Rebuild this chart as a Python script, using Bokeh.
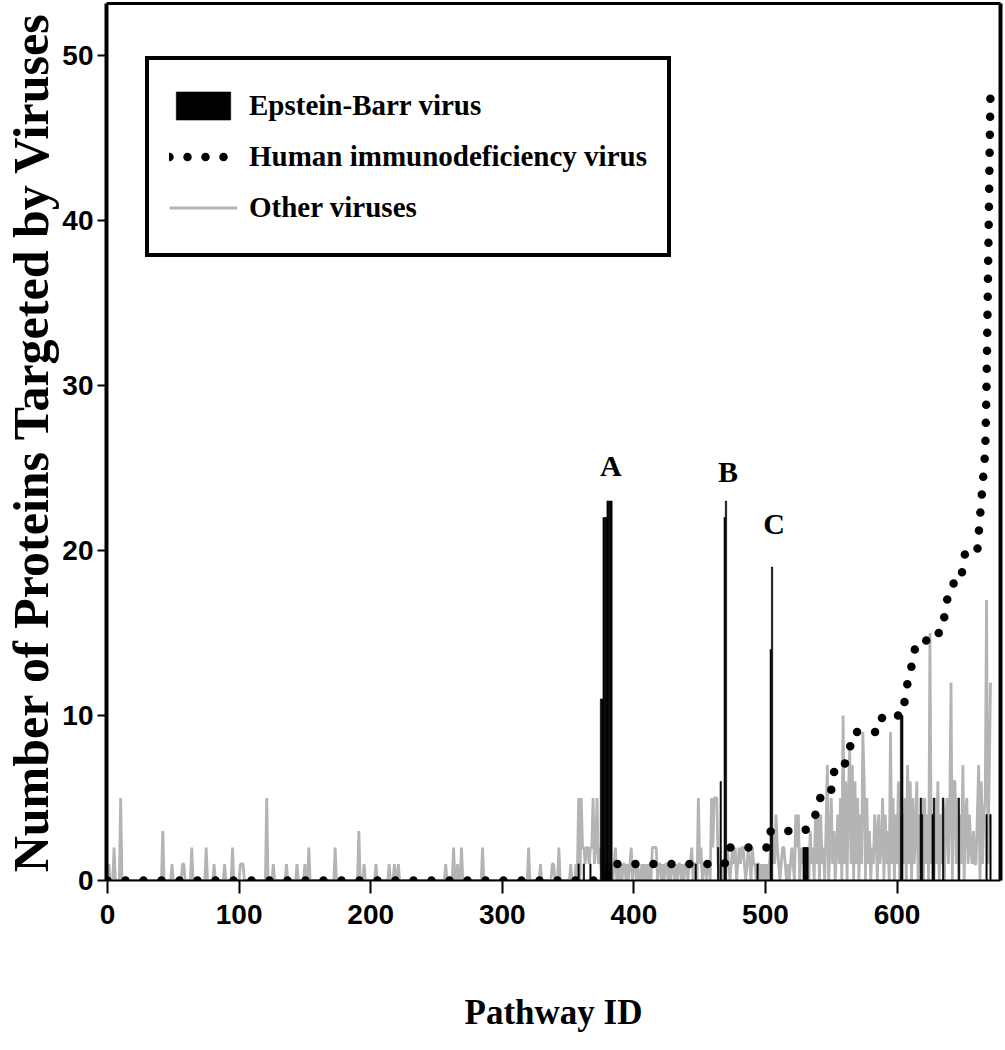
from bokeh.plotting import figure
from bokeh.models import Range1d, LinearAxis, FixedTicker, Legend, LegendItem, Label
from bokeh.embed import file_html
from bokeh.resources import INLINE

# ---------------- data ----------------
n_pathways = 672

# "Other viruses": isolated spikes in the low-ID region (pathway id, count)
other_spike_ids = [1, 5, 10, 42, 49, 57, 58, 64, 75, 81, 89, 95, 101, 102, 103,
                   121, 126, 136, 144, 150, 153, 173, 191, 195, 204, 214, 218, 221,
                   257, 263, 266, 269, 285, 320, 329, 338, 339, 343, 352]
other_spike_vals = [1, 2, 5, 3, 1, 1, 1, 2, 2, 1, 1, 2, 1, 1, 1,
                    5, 1, 1, 1, 1, 2, 2, 3, 1, 1, 1, 1, 1,
                    1, 2, 1, 2, 2, 2, 1, 1, 1, 2, 1]

# "Other viruses": dense region, pathway 355 .. 671
other_dense_start = 355
other_dense_vals = [
    0, 1, 0, 5, 0, 5, 2, 2, 1, 2, 2, 1, 2, 2, 5, 1, 2, 5, 1, 2,      # 355-374
    1, 0, 1, 0, 1, 0, 1, 0, 1,                                          # 375-383
    0, 1, 2, 0, 1, 0, 1, 0, 1, 1, 0, 1, 0, 1, 2, 0, 1, 1, 0, 1,       # 384-403
    0, 0, 1, 0, 1, 0, 1, 0, 1, 0, 2, 2, 2, 2, 0, 1, 1, 0, 1, 0,       # 404-423
    1, 1, 0, 1, 0, 1, 1, 0, 1, 0, 1, 1, 0, 1, 0, 1, 1, 0, 1, 1,       # 424-443
    2, 0, 1, 1, 0, 5, 1, 2, 0, 1, 1, 0, 1, 1, 0, 5, 2, 5, 5, 5,       # 444-463
    1, 0, 1, 0, 1, 0, 1, 2, 1, 0, 1, 2, 1, 2, 0, 1, 2, 1, 2, 2,       # 464-483
    1, 0, 1, 2, 1, 0, 2, 1, 1, 0, 1, 1, 0, 1, 0, 1, 0, 1, 0, 1,       # 484-503
    2, 1, 3, 1, 4, 2, 1, 0, 1, 2, 2, 1, 0, 1, 0, 1, 2, 1, 0, 4,       # 504-523
    2, 4, 0, 2, 1, 2, 0, 2, 1, 0, 3, 1, 2, 0, 4, 1, 4, 0, 4, 1,       # 524-543
    2, 0, 3, 7, 0, 2, 5, 1, 3, 0, 2, 4, 1, 5, 0, 10, 1, 6, 0, 5,      # 544-563
    8, 1, 7, 0, 6, 1, 5, 0, 4, 1, 9, 6, 0, 5, 1, 3, 0, 2, 1, 4,       # 564-583
    3, 0, 4, 1, 2, 5, 0, 4, 1, 3, 0, 9, 1, 5, 0, 4, 1, 6, 0, 3,       # 584-603
    4, 1, 5, 0, 7, 1, 6, 0, 5, 1, 3, 6, 0, 4, 1, 5, 0, 5, 1, 4,       # 604-623
    0, 15, 1, 4, 0, 5, 1, 6, 0, 4, 1, 5, 0, 4, 5, 1, 4, 12, 0, 6,     # 624-643
    6, 1, 5, 0, 4, 1, 7, 0, 4, 5, 1, 4, 2, 1, 3, 1, 1, 4, 7, 0,       # 644-663
    6, 1, 4, 5, 17, 1, 6, 12,                                          # 664-671
]

# Epstein-Barr virus (pathway id, count)
ebv_ids = [358, 362, 367, 375, 376, 377, 378, 379, 380, 381, 382, 383,
           447, 464, 466, 469, 470, 494, 504, 505, 529, 530, 531, 532,
           603, 604, 618, 619, 627, 628, 635, 647, 668, 671]
ebv_vals = [1, 1, 1, 11, 11, 22, 22, 22, 23, 23, 23, 23,
            1, 2, 6, 22, 23, 1, 14, 19, 2, 2, 2, 2,
            10, 10, 5, 4, 4, 5, 5, 5, 4, 4]

# Human immunodeficiency virus (pathways ordered by count)
hiv_x = [0, 379, 383, 469, 472, 502, 504, 530, 538, 541, 549, 551, 553, 560,
         564, 567, 586, 589, 604, 606, 608, 611, 613, 620, 624, 633, 636, 638,
         642, 648, 650, 652, 661, 662, 663, 664, 665, 666, 667, 668, 669, 670, 671]
hiv_y = [0, 0, 1, 1, 2, 2, 3, 3, 4, 5, 5, 6, 7, 7,
         8, 9, 9, 10, 10, 11, 12, 13, 14, 14, 15, 15, 16, 17,
         18, 18, 19, 20, 20, 21, 22, 23, 24, 25, 26, 30, 36, 42, 48]

annot_text = ["A", "B", "C"]
annot_ids = [381, 470, 505]

x_ticks = [0, 100, 200, 300, 400, 500, 600]
y_ticks = [0, 10, 20, 30, 40, 50]

# ---------------- build full "other" series ----------------
other_x = list(range(n_pathways))
other_y = [0] * n_pathways
for i, v in zip(other_spike_ids, other_spike_vals):
    other_y[i] = v
for k, v in enumerate(other_dense_vals):
    idx = other_dense_start + k
    if idx < n_pathways:
        other_y[idx] = v

SERIF = "Liberation Serif"
SANS = "'Liberation Sans Narrow', 'Arial Narrow', 'Liberation Sans', sans-serif"

p = figure(width=1004, height=1042,
           x_range=Range1d(-0.76, 678.6), y_range=Range1d(0, 53.15),
           output_backend="svg", toolbar_location=None,
           min_border_left=106, min_border_right=4, min_border_top=3, min_border_bottom=162,
           x_axis_label="Pathway ID",
           y_axis_label="Number of Proteins Targeted by Viruses")
p.outline_line_color = None
p.xgrid.visible = False
p.ygrid.visible = False
p.background_fill_color = "white"
p.border_fill_color = "white"

r_other = p.line(other_x, other_y, line_color="#b4b4b4", line_width=2.8)
r_ebv = p.vbar(x=ebv_ids, top=ebv_vals, width=1.0, bottom=0,
               fill_color="black", line_color="black", line_width=0.6)
r_hiv = p.line(hiv_x, hiv_y, line_color="black", line_width=8.5,
               line_dash="0 18", line_cap="round", line_join="round")

# axes
for ax in p.xaxis:
    ax.ticker = FixedTicker(ticks=x_ticks)
    ax.axis_line_width = 2
    ax.axis_line_color = "black"
    ax.major_tick_out = 13
    ax.major_tick_in = 0
    ax.major_tick_line_width = 2
    ax.major_tick_line_color = "black"
    ax.minor_tick_line_color = None
    ax.major_label_text_font = SANS
    ax.major_label_text_font_style = "bold"
    ax.major_label_text_font_size = "28px"
    ax.major_label_text_color = "black"
    ax.major_label_standoff = 11
    ax.axis_label_text_font = SERIF
    ax.axis_label_text_font_style = "bold"
    ax.axis_label_text_font_size = "35px"
    ax.axis_label_text_color = "black"
    ax.axis_label_standoff = 66
for ax in p.yaxis:
    ax.ticker = FixedTicker(ticks=y_ticks)
    ax.axis_line_width = 4
    ax.axis_line_color = "black"
    ax.major_tick_out = 9
    ax.major_tick_in = 0
    ax.major_tick_line_width = 2
    ax.major_tick_line_color = "black"
    ax.minor_tick_line_color = None
    ax.major_label_text_font = SANS
    ax.major_label_text_font_style = "bold"
    ax.major_label_text_font_size = "28px"
    ax.major_label_text_color = "black"
    ax.major_label_standoff = 4
    ax.axis_label_text_font = SERIF
    ax.axis_label_text_font_style = "bold"
    ax.axis_label_text_font_size = "50px"
    ax.axis_label_text_color = "black"
    ax.axis_label_standoff = 0

for side, w in (("above", 3), ("right", 4)):
    ax = LinearAxis(ticker=FixedTicker(ticks=[]), axis_line_width=w, axis_line_color="black",
                    major_tick_out=0, major_tick_in=0, minor_tick_out=0, minor_tick_in=0,
                    major_label_standoff=0, axis_label_standoff=0)
    p.add_layout(ax, side)

legend = Legend(items=[LegendItem(label="Epstein-Barr virus", renderers=[r_ebv]),
                       LegendItem(label="Human immunodeficiency virus", renderers=[r_hiv]),
                       LegendItem(label="Other viruses", renderers=[r_other])],
                location=(39, 623),
                border_line_color="black", border_line_width=4, border_line_alpha=1.0,
                background_fill_color="white", background_fill_alpha=1,
                label_text_font=SERIF, label_text_font_style="bold",
                label_text_font_size="29px", label_text_color="black",
                glyph_width=68, glyph_height=35, label_height=51,
                spacing=0, padding=20, label_standoff=12, margin=0)
p.add_layout(legend)

ebv_map = dict(zip(ebv_ids, ebv_vals))
for t, pid, dy in zip(annot_text, annot_ids, [35, 29, 43]):
    p.add_layout(Label(x=pid, y=ebv_map[pid], text=t, text_font=SERIF,
                       text_font_style="bold", text_font_size="30px",
                       text_color="black",
                       text_align="center", text_baseline="alphabetic",
                       x_offset=2, y_offset=dy))

open("out.html", "w").write(file_html(p, INLINE))
